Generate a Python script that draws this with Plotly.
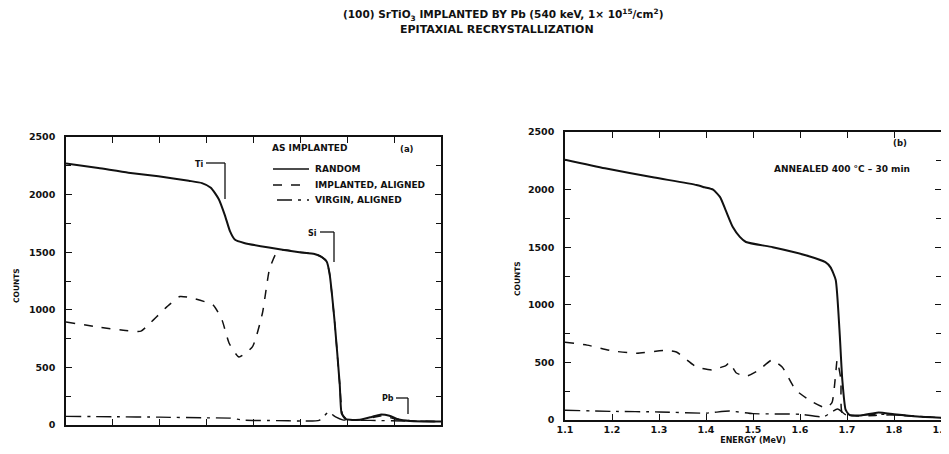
import plotly.graph_objects as go

# The page body has an 8 px margin, so the figure is sized and placed to compensate.
OFF = 8
W, H = 949 - OFF, 454 - OFF

# ---------------- data ----------------
# Panel (a): as implanted
a_random_x = [1.10, 1.169, 1.233, 1.297, 1.362, 1.39, 1.409, 1.426, 1.439, 1.45, 1.46, 1.48, 1.533,
              1.598, 1.63, 1.645, 1.656, 1.662, 1.673, 1.684, 1.688, 1.697, 1.727, 1.752, 1.77,
              1.79, 1.808, 1.834, 1.90]
a_random_y = [2270, 2230, 2190, 2160, 2120, 2100, 2060, 1960, 1820, 1680, 1610, 1580, 1540,
              1500, 1485, 1460, 1420, 1320, 900, 350, 100, 50, 45, 70, 90,
              80, 50, 35, 30]

a_impl_x = [1.10, 1.169, 1.227, 1.26, 1.282, 1.315, 1.343, 1.371, 1.414, 1.433, 1.448, 1.469,
            1.498, 1.519, 1.534, 1.549, 1.562, 1.598, 1.63, 1.645, 1.656, 1.662, 1.673, 1.684,
            1.69, 1.70, 1.73, 1.755, 1.775, 1.80, 1.84, 1.90]
a_impl_y = [895, 850, 820, 815, 895, 1025, 1115, 1100, 1040, 910, 710, 590,
            680, 970, 1350, 1495, 1520, 1500, 1485, 1460, 1420, 1320, 900, 350,
            90, 45, 45, 65, 80, 55, 35, 30]

a_virgin_x = [1.10, 1.20, 1.30, 1.40, 1.45, 1.48, 1.55, 1.60, 1.64, 1.66, 1.675, 1.69, 1.75, 1.82, 1.90]
a_virgin_y = [75, 72, 68, 62, 60, 42, 38, 35, 40, 110, 70, 45, 40, 35, 30]

# Panel (b): annealed 400 C - 30 min
b_random_x = [1.10, 1.185, 1.29, 1.38, 1.397, 1.415, 1.43, 1.442, 1.457, 1.472, 1.485, 1.542,
              1.612, 1.654, 1.665, 1.676, 1.684, 1.69, 1.697, 1.705, 1.73, 1.767, 1.80, 1.85, 1.90]
b_random_y = [2260, 2185, 2105, 2040, 2020, 2000, 1935, 1820, 1675, 1590, 1545, 1500,
              1430, 1370, 1325, 1215, 780, 350, 90, 45, 40, 65, 50, 30, 20]

b_impl_x = [1.10, 1.147, 1.20, 1.253, 1.316, 1.337, 1.38, 1.413, 1.443, 1.45, 1.464, 1.486,
            1.513, 1.54, 1.562, 1.591, 1.625, 1.655, 1.668, 1.676, 1.679, 1.687, 1.69, 1.72,
            1.76, 1.80, 1.85, 1.90]
b_impl_y = [675, 650, 600, 580, 605, 590, 460, 435, 475, 500, 410, 380,
            435, 520, 460, 260, 160, 105, 150, 405, 520, 350, 60, 35,
            40, 45, 30, 20]

b_virgin_x = [1.10, 1.20, 1.30, 1.40, 1.45, 1.50, 1.60, 1.65, 1.68, 1.70, 1.77, 1.84, 1.90]
b_virgin_y = [85, 75, 70, 60, 78, 55, 50, 28, 95, 40, 50, 35, 20]

x_ticks = [1.1, 1.2, 1.3, 1.4, 1.5, 1.6, 1.7, 1.8, 1.9]
x_tick_labels = ["1.1", "1.2", "1.3", "1.4", "1.5", "1.6", "1.7", "1.8", "1.9"]
y_ticks = [0, 500, 1000, 1500, 2000, 2500]
y_tick_labels = ["0", "500", "1000", "1500", "2000", "2500"]

# ---------------- figure ----------------
INK = "#111111"
FONT = "DejaVu Sans"

def px_x(p):
    return (p - OFF) / W

def px_y(p):
    return 1 - (p - OFF) / H

fig = go.Figure()

def add(x, y, xa, ya, dash, width):
    fig.add_trace(go.Scatter(x=x, y=y, xaxis=xa, yaxis=ya, mode="lines",
                             line=dict(color=INK, width=width, dash=dash, shape="spline", smoothing=0.5),
                             showlegend=False, hoverinfo="skip"))

add(a_virgin_x, a_virgin_y, "x", "y", "longdashdot", 1.4)
add(a_impl_x, a_impl_y, "x", "y", "dash", 1.5)
add(a_random_x, a_random_y, "x", "y", "solid", 2)
add(b_virgin_x, b_virgin_y, "x2", "y2", "longdashdot", 1.4)
add(b_impl_x, b_impl_y, "x2", "y2", "dash", 1.5)
add(b_random_x, b_random_y, "x2", "y2", "solid", 2)

tickfont = dict(family=FONT, size=9.5, color=INK, weight="bold")
axis_common = dict(range=[1.1, 1.9], tickvals=x_ticks, ticktext=x_tick_labels, ticks="inside",
                   ticklen=6, tickwidth=1.2, tickcolor=INK, showline=True, linecolor=INK,
                   linewidth=1.5, mirror="ticks", showgrid=False, zeroline=False,
                   automargin=False, tickfont=tickfont, ticklabeloverflow="allow")
yaxis_common = dict(range=[0, 2500], tickvals=y_ticks, ticktext=y_tick_labels, ticks="inside",
                    ticklen=6, tickwidth=1.2, tickcolor=INK, showline=True, linecolor=INK,
                    linewidth=1.5, mirror="ticks", showgrid=False, zeroline=False,
                    automargin=False, tickfont=tickfont, ticklabelstandoff=7,
                    minor=dict(dtick=250, tick0=0, ticks="inside", ticklen=5, tickwidth=1.2,
                               tickcolor=INK, showgrid=False))

fig.update_layout(
    width=W, height=H, margin=dict(l=0, r=0, t=0, b=0),
    paper_bgcolor="white", plot_bgcolor="white",
    xaxis=dict(domain=[px_x(66), px_x(441)], anchor="y", showticklabels=False, **axis_common),
    yaxis=dict(domain=[px_y(425), px_y(137)], anchor="x", **yaxis_common),
    xaxis2=dict(domain=[px_x(565), px_x(941)], anchor="y2", showticklabels=True,
                title=dict(text="<b>ENERGY (MeV)</b>", font=dict(family=FONT, size=8, color=INK), standoff=3),
                **axis_common),
    yaxis2=dict(domain=[px_y(420), px_y(132)], anchor="x2", **yaxis_common),
)

annotations = []

def txt(x, y, s, size=8, xanchor="center", angle=0):
    annotations.append(dict(x=px_x(x), y=px_y(y), xref="paper", yref="paper", text=s,
                            showarrow=False, xanchor=xanchor, yanchor="middle", textangle=angle,
                            font=dict(family=FONT, size=size, color=INK)))

# Titles
txt(503, 15, "<b>(100) SrTiO<sub>3</sub> IMPLANTED BY Pb (540 keV, 1× 10<sup>15</sup>/cm<sup>2</sup>)</b>", size=10.5)
txt(497, 29, "<b>EPITAXIAL RECRYSTALLIZATION</b>", size=11)

# Y axis titles
txt(16, 286, "<b>COUNTS</b>", size=7.5, angle=-90)
txt(517, 279, "<b>COUNTS</b>", size=7.5, angle=-90)

# Panel (a) labels
txt(270, 148, "<b>AS IMPLANTED</b>", size=9, xanchor="left")
txt(407, 149, "<b>(a)</b>", size=8.5)
txt(313, 169, "<b>RANDOM</b>", size=9, xanchor="left")
txt(313, 185, "<b>IMPLANTED, ALIGNED</b>", size=9, xanchor="left")
txt(313, 200, "<b>VIRGIN, ALIGNED</b>", size=9, xanchor="left")
txt(199, 164, "<b>Ti</b>", size=8)
txt(312, 233, "<b>Si</b>", size=8)
txt(388, 398, "<b>Pb</b>", size=8)

# Panel (b) labels
txt(900, 143, "<b>(b)</b>", size=8.5)
txt(842, 169, "<b>ANNEALED 400 °C – 30 min</b>", size=9)

fig.update_layout(annotations=annotations)

shapes = []

def seg(x0, y0, x1, y1, dash="solid", width=1.3):
    shapes.append(dict(type="line", xref="paper", yref="paper",
                       x0=px_x(x0), y0=px_y(y0), x1=px_x(x1), y1=px_y(y1),
                       line=dict(color=INK, width=width, dash=dash)))

# Legend glyphs
seg(273, 169, 309, 169, "solid", 1.6)
seg(273, 185, 307, 185, "dash", 1.5)
seg(277, 200, 309, 200, "longdashdot", 1.4)

# Element edge brackets
seg(206, 163, 225, 163)
seg(225, 163, 225, 199)
seg(320, 232, 334, 232)
seg(334, 232, 334, 262)
seg(396, 398, 408, 398)
seg(408, 398, 408, 414)

fig.update_layout(shapes=shapes)

fig.write_html("out.html")
